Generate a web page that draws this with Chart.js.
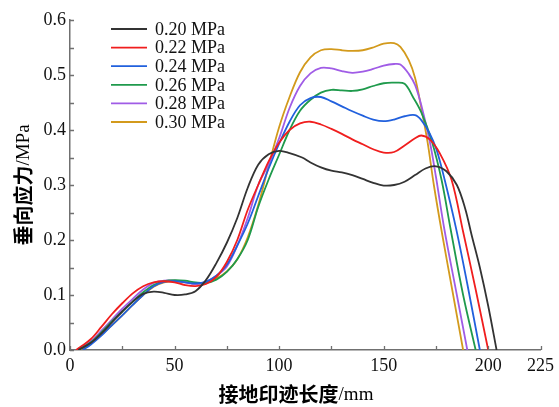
<!DOCTYPE html>
<html>
<head>
<meta charset="utf-8">
<script src="https://cdn.jsdelivr.net/npm/chart.js@4/dist/chart.umd.min.js"></script>
<style>
  body { margin: 0; background: #fff; }
  canvas { display: block; }
</style>
</head>
<body>
<canvas id="stressChart" width="559" height="407"></canvas>
<script>
// pressure labels
const LABELS = ['0.20 MPa', '0.22 MPa', '0.24 MPa', '0.26 MPa', '0.28 MPa', '0.30 MPa'];
const COLORS = ['#333333', '#f01e1e', '#2160dd', '#1f9a4c', '#a05ce6', '#d39a1c'];

// contact length (mm) / vertical stress (MPa)
const X_020 = [4,10,15,20,25,30,35,40,45,50,55,60,65,70,75,80,85,90,95,100,105,111,115,120,125,130,135,140,145,150,155,160,165,170,175,180,185,189,192,196,200,204];
const Y_020 = [0,0.013,0.03,0.05,0.07,0.088,0.102,0.106,0.104,0.1,0.101,0.107,0.127,0.158,0.195,0.24,0.295,0.337,0.356,0.362,0.358,0.35,0.341,0.332,0.326,0.323,0.318,0.311,0.304,0.299,0.3,0.306,0.318,0.33,0.334,0.325,0.3,0.257,0.21,0.15,0.08,0];

const X_022 = [3,10,15,20,25,30,35,40,45,50,55,60,65,70,75,80,85,90,95,100,105,110,115,120,125,130,135,140,145,150,155,160,165,168,172,176.8,182.5,188,194,200];
const Y_022 = [0,0.02,0.042,0.065,0.085,0.103,0.116,0.123,0.125,0.123,0.118,0.116,0.12,0.133,0.16,0.2,0.255,0.3,0.343,0.377,0.4,0.412,0.415,0.41,0.402,0.393,0.383,0.374,0.365,0.359,0.36,0.372,0.385,0.39,0.383,0.358,0.309,0.215,0.11,0];

const X_024 = [6,10,15,20,25,30,35,40,45,50,55,60,65,70,75,80,85,90,95,100,105,110,115,120,125,130,135,140,145,150,155,160,165,168,172,175.3,179.2,184.8,190,196];
const Y_024 = [0,0.01,0.026,0.045,0.063,0.082,0.1,0.116,0.124,0.125,0.123,0.121,0.124,0.135,0.155,0.19,0.23,0.28,0.33,0.375,0.415,0.445,0.458,0.46,0.452,0.443,0.434,0.426,0.419,0.416,0.419,0.425,0.427,0.418,0.394,0.364,0.309,0.218,0.12,0];

const X_026 = [4,10,15,20,25,30,35,40,45,50,55,60,65,70,75,80,85,90,95,100,105,110,115,120,125,130,135,140,145,150,155,160,164,168,173,177.7,182,188,194];
const Y_026 = [0,0.014,0.032,0.052,0.07,0.088,0.105,0.118,0.125,0.127,0.126,0.123,0.122,0.128,0.142,0.165,0.2,0.26,0.31,0.355,0.4,0.435,0.455,0.468,0.473,0.472,0.471,0.474,0.48,0.485,0.486,0.484,0.46,0.432,0.38,0.309,0.22,0.1,0];

const X_028 = [3,10,15,20,25,30,35,40,45,50,55,60,65,70,75,80,85,90,95,100,105,110,115,120,125,130,135,140,145,150,155,158,162,165,168,172,175,179,185,190];
const Y_028 = [0,0.016,0.035,0.055,0.075,0.093,0.11,0.122,0.126,0.126,0.123,0.12,0.124,0.135,0.152,0.19,0.24,0.3,0.338,0.385,0.44,0.48,0.503,0.513,0.512,0.507,0.504,0.506,0.511,0.517,0.52,0.519,0.502,0.482,0.445,0.38,0.315,0.22,0.1,0];

const X_030 = [5,10,15,20,25,30,35,40,45,50,55,60,65,70,75,80,85,90,95,100,105,110,115,120,125,130,135,140,145,150,155,158,162,165,168,171,174,178,183,188];
const Y_030 = [0,0.012,0.028,0.045,0.063,0.082,0.1,0.115,0.123,0.125,0.124,0.12,0.122,0.13,0.143,0.165,0.205,0.263,0.335,0.405,0.46,0.505,0.532,0.545,0.547,0.545,0.544,0.545,0.55,0.557,0.558,0.551,0.527,0.495,0.44,0.378,0.3,0.21,0.105,0];

const SERIES_X = [X_020, X_022, X_024, X_026, X_028, X_030];
const SERIES_Y = [Y_020, Y_022, Y_024, Y_026, Y_028, Y_030];

const AXIS_COLOR = '#707070';
const SERIF = '"Liberation Serif", "Times New Roman", serif';

// inward tick marks
const innerTicks = {
  id: 'innerTicks',
  afterDraw(chart) {
    const ctx = chart.ctx, area = chart.chartArea;
    const xs = chart.scales.x, ys = chart.scales.y;
    ctx.save();
    ctx.strokeStyle = AXIS_COLOR;
    ctx.lineWidth = 1.3;
    ctx.beginPath();
    ys.ticks.forEach(t => {
      const py = Math.round(ys.getPixelForValue(t.value)) + 0.5;
      ctx.moveTo(area.left, py);
      ctx.lineTo(area.left + 4, py);
    });
    xs.ticks.forEach(t => {
      const px = Math.round(xs.getPixelForValue(t.value)) + 0.5;
      ctx.moveTo(px, area.bottom);
      ctx.lineTo(px, area.bottom - 4);
    });
    ctx.stroke();
    ctx.restore();
  }
};

// legend in upper-left corner, one row per dataset
const cornerLegend = {
  id: 'cornerLegend',
  afterDraw(chart) {
    const ctx = chart.ctx;
    ctx.save();
    ctx.font = '18px ' + SERIF;
    ctx.textBaseline = 'middle';
    chart.data.datasets.forEach((ds, i) => {
      const y = 29 + i * 18.6;
      ctx.strokeStyle = ds.borderColor;
      ctx.lineWidth = 1.8;
      ctx.beginPath();
      ctx.moveTo(111, y);
      ctx.lineTo(147, y);
      ctx.stroke();
      ctx.fillStyle = '#111';
      ctx.fillText(ds.label, 155, y + 1);
    });
    ctx.restore();
  }
};

// axis titles: bold CJK part + serif unit part
function mixedTitle(ctx, cjk, unit) {
  const f1 = 'bold 20px "Noto Sans CJK SC", sans-serif';
  const f2 = '19px ' + SERIF;
  ctx.font = f1;
  const w1 = ctx.measureText(cjk).width;
  ctx.font = f2;
  const w2 = ctx.measureText(unit).width;
  let x = -(w1 + w2) / 2;
  ctx.textBaseline = 'middle';
  ctx.fillStyle = '#000';
  ctx.font = f1;
  ctx.fillText(cjk, x, 0);
  ctx.font = f2;
  ctx.fillText(unit, x + w1, 1);
}

const axisTitles = {
  id: 'axisTitles',
  afterDraw(chart) {
    const ctx = chart.ctx;
    ctx.save();
    ctx.translate(296, 394);
    mixedTitle(ctx, '接地印迹长度', '/mm');
    ctx.restore();
    ctx.save();
    ctx.translate(23, 185);
    ctx.rotate(-Math.PI / 2);
    mixedTitle(ctx, '垂向应力', '/MPa');
    ctx.restore();
  }
};

const datasets = LABELS.map((lab, i) => ({
  label: lab,
  data: SERIES_X[i].map((x, j) => ({ x: x, y: SERIES_Y[i][j] })),
  borderColor: COLORS[i],
  borderWidth: 1.8,
  pointRadius: 0,
  fill: false,
  tension: 0.35
}));

const ctx1 = document.getElementById('stressChart').getContext('2d');
new Chart(ctx1, {
  type: 'line',
  data: { datasets: datasets },
  options: {
    responsive: false,
    animation: false,
    devicePixelRatio: 1,
    layout: { padding: { left: 0, right: 18, top: 20, bottom: 0 } },
    plugins: {
      legend: { display: false },
      tooltip: { enabled: false }
    },
    scales: {
      x: {
        type: 'linear',
        min: 0,
        max: 225,
        afterFit: s => { s.height = 57; },
        grid: { display: false, drawTicks: false },
        border: { display: true, color: AXIS_COLOR, width: 1.5 },
        ticks: {
          stepSize: 25,
          padding: 5,
          maxRotation: 0,
          autoSkip: false,
          color: '#111',
          font: { family: SERIF, size: 18 },
          callback: v => (v % 50 === 0 || v === 225) ? String(v) : ''
        }
      },
      y: {
        min: 0,
        max: 0.6,
        afterFit: s => { s.width = 70; },
        grid: { display: false, drawTicks: false },
        border: { display: true, color: AXIS_COLOR, width: 1.5 },
        ticks: {
          stepSize: 0.05,
          padding: 4,
          autoSkip: false,
          color: '#111',
          font: { family: SERIF, size: 18 },
          callback: v => Math.abs(v * 10 - Math.round(v * 10)) < 1e-6 ? v.toFixed(1) : ''
        }
      }
    }
  },
  plugins: [innerTicks, cornerLegend, axisTitles]
});
</script>
</body>
</html>
